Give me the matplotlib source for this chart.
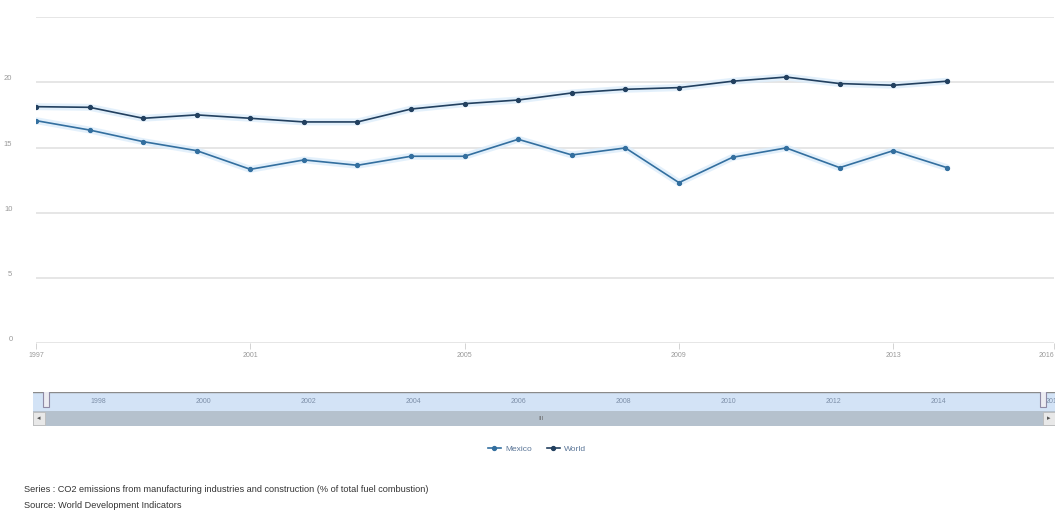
"""CO2 emissions from manufacturing (% of fuel combustion): Mexico vs World."""

import matplotlib
matplotlib.use("Agg")
import matplotlib.pyplot as plt
from matplotlib.patches import Rectangle

years = list(range(1997, 2015))
mexico = [17.06, 16.34, 15.45, 14.76, 13.33, 14.05, 13.64, 14.33, 14.33, 15.63,
          14.43, 14.97, 12.31, 14.25, 14.97, 13.46, 14.76, 13.46]
world = [18.13, 18.08, 17.24, 17.50, 17.24, 16.96, 16.96, 17.95, 18.36, 18.64,
         19.18, 19.46, 19.59, 20.08, 20.40, 19.90, 19.77, 20.08]

x_ticks = [1997, 2001, 2005, 2009, 2013, 2016]
y_ticks = [0, 5, 10, 15, 20, 25]
nav_ticks = [1998, 2000, 2002, 2004, 2006, 2008, 2010, 2012, 2014, 2016]

series_text = ("Series : CO2 emissions from manufacturing industries and construction "
               "(% of total fuel combustion)")
source_text = "Source: World Development Indicators"

W, H = 1060, 524
plt.rcParams["font.family"] = ["Liberation Sans", "DejaVu Sans"]
fig = plt.figure(figsize=(W / 100, H / 100), dpi=100)


def px_axes(x0, y0, x1, y1):
    """Axes from pixel box (top-left origin)."""
    return fig.add_axes([x0 / W, 1 - y1 / H, (x1 - x0) / W, (y1 - y0) / H])


# main chart
ax = px_axes(36, 17, 1054, 343.3)
ax.set_xlim(1997, 2016)
ax.set_ylim(0, 25)
for y in y_ticks:
    ax.axhline(y, color="#e2e2e2", lw=1.2, zorder=0)
for s in ax.spines.values():
    s.set_visible(False)

# soft halo under each line, then the line itself
for vals in (mexico, world):
    ax.plot(years, vals, "-", color="#dcedfb", lw=5, alpha=0.8, zorder=2,
            solid_capstyle="round")
ax.plot(years, mexico, "-o", color="#336f9f", lw=1.2, ms=2.8, label="Mexico",
        zorder=3)
ax.plot(years, world, "-o", color="#22405f", lw=1.2, ms=2.8, label="World",
        zorder=3)

ax.set_xticks(x_ticks)
ax.set_xticklabels([str(t) for t in x_ticks])
ax.get_xticklabels()[-1].set_horizontalalignment("right")
ax.set_yticks(y_ticks)
ax.set_yticklabels([str(t) if t < 25 else "" for t in y_ticks])
ax.tick_params(axis="x", length=4, width=0.6, color="#cccccc", pad=2,
               labelsize=5, labelcolor="#999999")
ax.tick_params(axis="y", length=0, pad=17, labelsize=5.5, labelcolor="#999999")
for lab in ax.get_yticklabels():
    lab.set_verticalalignment("bottom")

# navigator + scrollbar
nav = px_axes(33, 392, 1055, 426)
nav.set_ylim(0, 1)
# 1997 at x=46px, 2016 at x=1043px
scale = (1043 - 46) / 19
nav.set_xlim(1997 - (46 - 33) / scale, 1997 + (1055 - 46) / scale)
nav.axis("off")
split = (426 - 411) / (426 - 392)
nav.add_patch(Rectangle((1990, split), 40, 1 - split, facecolor="#d3e3f6",
                        edgecolor="none", zorder=0))
nav.add_patch(Rectangle((1990, 0), 40, split, facecolor="#b5c1cd",
                        edgecolor="none", zorder=0))
nav.axhline(1, color="#8a8a8a", lw=1.0, zorder=2)
for t in nav_ticks:
    if t == nav_ticks[-1]:
        nav.text(t + 3 / scale, split + (1 - split) / 2, str(t), ha="left",
                 va="center", fontsize=5, color="#7d8fa8", clip_on=True, zorder=5)
    else:
        nav.text(t, split + (1 - split) / 2, str(t), ha="center", va="center",
                 fontsize=5, color="#7d8fa8", clip_on=True)
for yr in (1997, 2016):
    nav.add_patch(Rectangle((yr - 3 / scale, split + 0.12), 6 / scale, 0.58,
                            facecolor="#ececf2", edgecolor="#8f8aa6", lw=0.8, zorder=3))
# scrollbar arrow buttons
lo, hi = nav.get_xlim()
for x0, arrow in ((lo, "◂"), (hi - 12 / scale, "▸")):
    nav.add_patch(Rectangle((x0, 0.02), 12 / scale, split - 0.04,
                            facecolor="#e8e8e8", edgecolor="#bbbbbb", lw=0.6, zorder=3))
    nav.text(x0 + 6 / scale, split / 2, arrow, ha="center", va="center",
             fontsize=5, color="#555555", zorder=4, family="DejaVu Sans")
nav.text((lo + hi) / 2 - 3 / scale, split / 2, "III", ha="center", va="center",
         fontsize=4.5, color="#666666", zorder=4)

# legend
handles, labels = ax.get_legend_handles_labels()
fig.legend(handles, labels, loc="center", bbox_to_anchor=(537 / W, 1 - 449 / H),
           ncol=2, frameon=False, fontsize=6, labelcolor="#5a7597",
           handlelength=1.6, handletextpad=0.5, columnspacing=1.8)

fig.text(24 / W, 1 - 490 / H, series_text, fontsize=6.6, color="#333333", va="center")
fig.text(24 / W, 1 - 506 / H, source_text, fontsize=6.6, color="#333333", va="center")

fig.savefig("out.png", dpi=100)
